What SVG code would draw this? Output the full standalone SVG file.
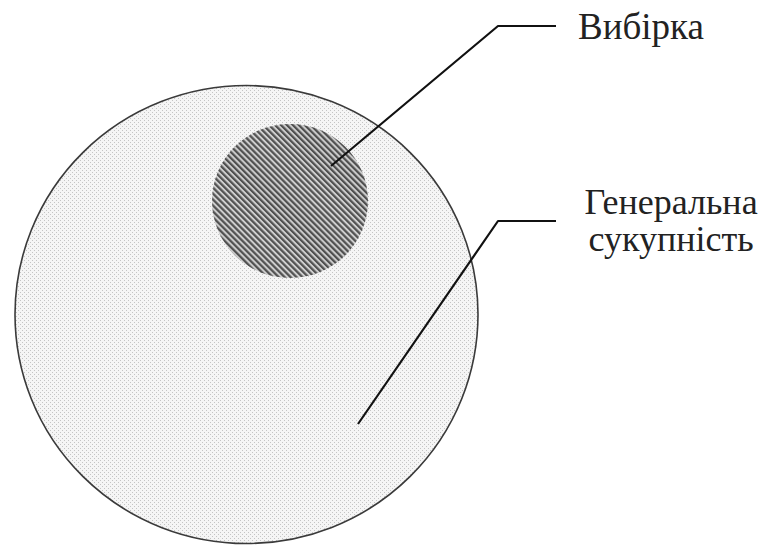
<svg xmlns="http://www.w3.org/2000/svg" width="774" height="548" viewBox="0 0 774 548">
  <defs>
    <pattern id="dots" width="4" height="4" patternUnits="userSpaceOnUse">
      <rect width="4" height="4" fill="#f5f5f5"/>
      <rect x="0" y="0" width="1" height="1" fill="#c4c4c4"/>
      <rect x="2" y="2" width="1" height="1" fill="#c4c4c4"/>
    </pattern>
    <pattern id="hatch" width="4.2" height="10" patternUnits="userSpaceOnUse" patternTransform="rotate(-45)">
      <rect width="4.2" height="10" fill="#cfcfcf"/>
      <rect x="0" y="0" width="2.2" height="10" fill="#505050"/>
    </pattern>
    <style>
      .lbl { font-family: 'Liberation Serif', 'DejaVu Serif', serif; font-size: 36px; fill: #222; }
      .lbl2 { font-family: 'Liberation Serif', 'DejaVu Serif', serif; font-size: 37px; fill: #222; }
      .lead { fill: none; stroke: #111; stroke-width: 2.2; stroke-linejoin: round; }
    </style>
  </defs>
  <rect width="774" height="548" fill="#ffffff"/>
  <g id="population">
    <ellipse cx="246.5" cy="314.5" rx="231.5" ry="229" fill="url(#dots)" stroke="#3a3a3a" stroke-width="1.6"/>
  </g>
  <g id="sample">
    <ellipse cx="290" cy="201" rx="78" ry="77" fill="url(#hatch)"/>
  </g>
  <g id="connectors">
    <polyline class="lead" points="331,166 498,26 556,26"/>
    <polyline class="lead" points="358,424 498,221 556,221"/>
  </g>
  <g id="label-sample">
    <text class="lbl2" x="578" y="39">Вибірка</text>
  </g>
  <g id="label-population">
    <text class="lbl" x="671" y="214" text-anchor="middle">Генеральна</text>
    <text class="lbl" x="671" y="251" text-anchor="middle">сукупність</text>
  </g>
</svg>
